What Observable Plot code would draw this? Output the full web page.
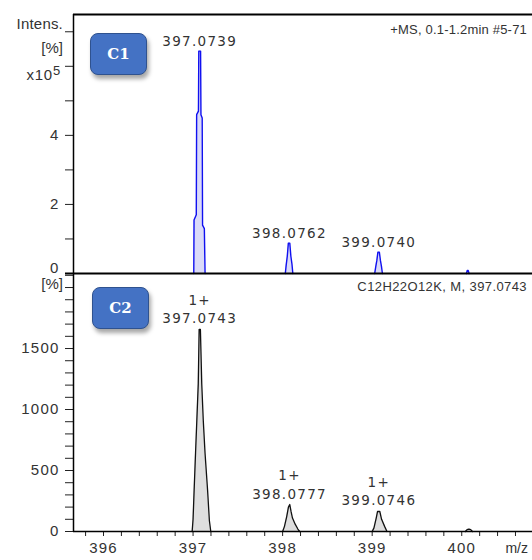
<!DOCTYPE html>
<html><head><meta charset="utf-8">
<script src="https://cdn.jsdelivr.net/npm/d3@7"></script>
<script src="https://cdn.jsdelivr.net/npm/@observablehq/plot@0.6"></script>
<style>
body{margin:0;background:#fff;}
#wrap{position:relative;width:532px;height:560px;overflow:hidden;font-family:"Liberation Sans",Arial,sans-serif;color:#333;}
#wrap svg{position:absolute;left:0;overflow:visible;}
#wrap svg text{letter-spacing:1.2px;}
#wrap svg .plbl text{letter-spacing:1.3px;}
.badge{position:absolute;width:55px;height:40px;background:#4472C4;border:1.5px solid #2F528F;border-radius:8px;color:#fff;font:bold 15px "DejaVu Serif","Liberation Serif",serif;display:flex;align-items:center;justify-content:center;box-shadow:2px 4px 4px rgba(0,0,0,0.35);z-index:5;}
.t{position:absolute;white-space:nowrap;font-size:13.5px;line-height:1;color:#333;}
</style></head><body><div id="wrap"></div>
<script>
// ---- data ----
const mzDomain = [395.665, 400.79];
const mzMajorTicks = [396, 397, 398, 399, 400];

// C1 (measured), intensity in x10^5
const c1Peak397 = [[397.008,0],[397.011,1.55],[397.036,1.7],[397.040,4.6],[397.060,4.7],[397.064,6.44],[397.084,6.44],[397.088,4.6],[397.102,4.5],[397.106,1.4],[397.126,1.3],[397.134,0]];
const c1Peak398 = [[398.030,0],[398.040,0.25],[398.052,0.5],[398.064,0.88],[398.080,0.88],[398.092,0.5],[398.104,0.28],[398.114,0]];
const c1Peak399 = [[399.028,0],[399.040,0.2],[399.052,0.38],[399.064,0.62],[399.080,0.62],[399.092,0.38],[399.104,0.2],[399.114,0]];
const c1Peak400 = [[400.052,0],[400.062,0.09],[400.072,0.09],[400.082,0]];
const c1LabelMz = [397.0739, 398.0762, 399.0740];
const c1LabelInt = [6.44, 0.88, 0.62];
const c1LabelText = ["397.0739", "398.0762", "399.0740"];
const c1YTicks = [0,1,2,3,4,5,6,7];
const c1YLabels = [2,4];
const c1YZeroLabel = [0];

// C2 (simulated), intensity in %
const c2Peak397 = [[396.990,0],[397.000,100],[397.012,340],[397.028,650],[397.042,910],[397.058,1210],[397.068,1656],[397.082,1656],[397.097,1210],[397.114,910],[397.134,640],[397.162,340],[397.182,90],[397.198,0]];
const c2Peak398 = [[398.000,0],[398.020,40],[398.045,120],[398.065,200],[398.080,221],[398.095,160],[398.110,110],[398.140,60],[398.170,20],[398.190,0]];
const c2Peak399 = [[399.000,0],[399.020,30],[399.045,110],[399.060,164],[399.085,164],[399.105,100],[399.140,40],[399.165,0]];
const c2Peak400 = [[400.040,0],[400.060,15],[400.080,20],[400.100,15],[400.120,0]];
const c2LabelMz = [397.0743, 398.0777, 399.0746];
const c2LabelInt = [1656, 221, 164];
const c2LabelText = ["1+\n397.0743", "1+\n398.0777", "1+\n399.0746"];
const c2YTicks = d3.range(0, 2200, 100);
const c2YLabels = [0,500,1000,1500];

const c1Max = 7.5, c2Max = 2115;

function toRows(peaks){ return peaks.flatMap((p,k)=>p.map(([mz,v])=>({mz, v, k}))); }
function labelRows(mz, v, t){ return mz.map((m,i)=>({mz:m, v:v[i], t:t[i]})); }

const font = "'Liberation Sans', Arial, sans-serif";
const wrap = document.getElementById("wrap");

// ---- top panel ----
const c1Rows = toRows([c1Peak397,c1Peak398,c1Peak399,c1Peak400]);
const plotC1 = Plot.plot({
  width: 532, height: 275,
  marginTop: 14, marginBottom: 2, marginLeft: 73, marginRight: 0,
  style: {background:"none", fontSize:"15px", fontFamily: font, color:"#333"},
  x: {domain: mzDomain, axis: null},
  y: {domain: [0, c1Max], axis: null},
  marks: [
    Plot.areaY(c1Rows, {x:"mz", y:"v", z:"k", fill:"#dadaf8", curve:"linear"}),
    Plot.lineY(c1Rows, {x:"mz", y:"v", z:"k", stroke:"#1010f0", strokeWidth:1.4}),
    Plot.axisY({ticks: c1YTicks, label: null, tickSize: 8, tickPadding: 6, tickFormat: d => c1YLabels.includes(d) ? String(d) : "", fill:"#333", stroke:"#222"}),
    Plot.axisY({ticks: c1YZeroLabel, label: null, tickSize: 0, tickPadding: 14, dy: -5, fill:"#333"}),
    Plot.ruleY([0], {stroke:"#000", strokeWidth:2, insetLeft:-8}),
    Plot.ruleY([c1Max], {stroke:"#000", strokeWidth:2}),
    Plot.ruleX([mzDomain[0]], {stroke:"#000", strokeWidth:1.5}),
    Plot.text(labelRows(c1LabelMz, c1LabelInt, c1LabelText), {x:"mz", y:"v", text:"t", lineAnchor:"bottom", dy:-5, fontSize:13.5, fontFamily:"'DejaVu Sans', sans-serif", fill:"#333", className:"plbl"})
  ]
});
plotC1.style.top = "0px"; plotC1.style.zIndex = 2;

// ---- bottom panel ----
const c2Rows = toRows([c2Peak397,c2Peak398,c2Peak399,c2Peak400]);
const minorX = d3.range(395.8, 400.8, 0.2).map(v => Math.round(v*10)/10);
const plotC2 = Plot.plot({
  width: 532, height: 287,
  marginTop: 0, marginBottom: 29, marginLeft: 73, marginRight: 0,
  style: {background:"none", fontSize:"15px", fontFamily: font, color:"#333"},
  x: {domain: mzDomain, axis: null},
  y: {domain: [0, c2Max], axis: null},
  marks: [
    Plot.areaY(c2Rows, {x:"mz", y:"v", z:"k", fill:"#dedede", curve:"linear"}),
    Plot.lineY(c2Rows, {x:"mz", y:"v", z:"k", stroke:"#111", strokeWidth:1.3}),
    Plot.axisY({ticks: c2YTicks, label: null, tickSize: 8, tickPadding: 6, tickFormat: d => c2YLabels.includes(d) ? String(d) : "", fill:"#333", stroke:"#222"}),
    Plot.axisX({ticks: minorX, label: null, tickSize: 5, tickPadding: 6, tickFormat: d => mzMajorTicks.includes(d) ? String(d) : "", fill:"#333", stroke:"#222"}),
    Plot.ruleY([0], {stroke:"#000", strokeWidth:1.5}),
    Plot.ruleX([mzDomain[0]], {stroke:"#000", strokeWidth:1.5}),
    Plot.text(labelRows(c2LabelMz, c2LabelInt, c2LabelText), {x:"mz", y:"v", text:"t", lineAnchor:"bottom", lineHeight:1.35, dy:-6, fontSize:13.5, fontFamily:"'DejaVu Sans', sans-serif", fill:"#333", className:"plbl"})
  ]
});
plotC2.style.top = "273px"; plotC2.style.zIndex = 1;

wrap.appendChild(plotC2);
wrap.appendChild(plotC1);

// ---- annotations ----
function addText(txt, css){ const d = document.createElement("div"); d.className = "t"; d.innerHTML = txt; Object.assign(d.style, css); wrap.appendChild(d); return d; }
addText("Intens.", {right:"469px", top:"16px", fontSize:"15px", letterSpacing:"0.2px"});
addText("[%]", {right:"469px", top:"40px", fontSize:"15px"});
addText("x10<sup style='font-size:13px;vertical-align:5px'>5</sup>", {right:"471px", top:"64px", fontSize:"15px", letterSpacing:"0.8px"});
addText("[%]", {right:"469px", top:"276px", fontSize:"15px", zIndex:3});
addText("+MS, 0.1-1.2min #5-71", {right:"5px", top:"23px", fontSize:"13px", letterSpacing:"0.2px"});
addText("C12H22O12K, M, 397.0743", {right:"5px", top:"280px", fontSize:"13px", letterSpacing:"0.4px", zIndex:3});
addText("m/z", {right:"4px", top:"541px", fontSize:"14px"});

const b1 = document.createElement("div"); b1.className = "badge"; b1.textContent = "C1"; b1.style.left = "90px"; b1.style.top = "33px"; wrap.appendChild(b1);
const b2 = document.createElement("div"); b2.className = "badge"; b2.textContent = "C2"; b2.style.left = "92px"; b2.style.top = "287px"; wrap.appendChild(b2);
</script>
</body></html>
